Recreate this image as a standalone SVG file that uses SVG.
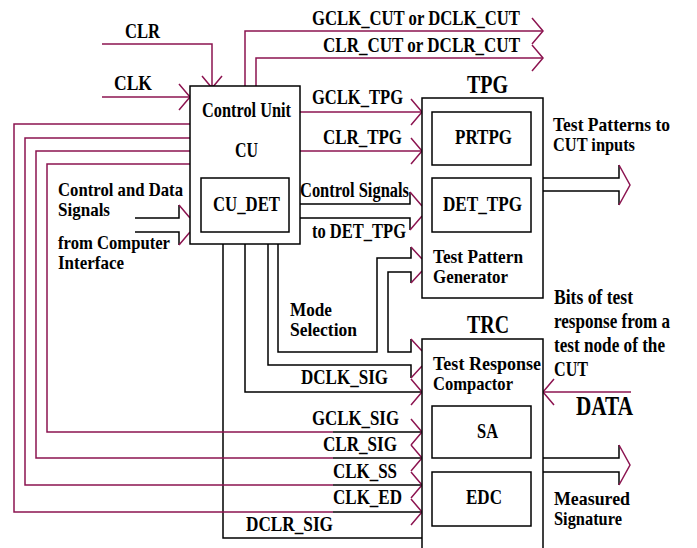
<svg xmlns="http://www.w3.org/2000/svg" width="697" height="548" viewBox="0 0 697 548">
<defs>
<style>
.m{fill:none;stroke:#8c1450;stroke-width:1.5}
.k{fill:none;stroke:#000;stroke-width:1.5}
.box{fill:#fff;stroke:#000;stroke-width:1.5}
text{font-family:"Liberation Serif","Times New Roman",serif;font-weight:bold;font-size:20px;fill:#000}
.big{font-size:25px}
.huge{font-size:27px}
.note{font-size:21px}
.pair{font-size:19px}
</style>
<marker id="chev" viewBox="-12 -14 13 28" refX="0" refY="0" markerWidth="13" markerHeight="28" markerUnits="userSpaceOnUse" orient="auto" overflow="visible">
<path d="M-11,-13 L0,0 L-11,13" fill="none" stroke="#8c1450" stroke-width="1.5"/>
</marker>
</defs>
<rect width="697" height="548" fill="#fff"/>

<g id="connectors">
<!-- inputs to CU -->
<path class="m" d="M102,44 H212 V87"/>
<path class="m" d="M202,76 L212,88 L222,76"/>
<path class="m" d="M102,97 H190" marker-end="url(#chev)"/>
<!-- CUT outputs -->
<path class="m" d="M245,86 V31 H543" marker-end="url(#chev)"/>
<path class="m" d="M256,86 V58 H543" marker-end="url(#chev)"/>
<!-- CU to TPG -->
<path class="m" d="M300,112 H422" marker-end="url(#chev)"/>
<path class="m" d="M300,151 H422" marker-end="url(#chev)"/>
<!-- Control signals hollow arrow -->
<path class="k" d="M300,204 H410 V192 M300,218 H410 V230"/>
<path class="m" d="M410,192 L422,206 M410,230 L422,216"/>
<!-- Control and data signals hollow arrow -->
<path class="k" d="M135,218 H179 V205 M135,232 H179 V245"/>
<path class="m" d="M179,205 L190,218 M179,245 L190,232"/>
<!-- Mode selection bus -->
<path class="k" d="M278,244 V352 H377 V258 H411 V247"/>
<path class="k" d="M411,283 V272 H388 V352 H411 V339"/>
<path class="k" d="M268,244 V365 H411 V378"/>
<path class="m" d="M411,247 L422,259 M411,283 L422,271"/>
<path class="m" d="M411,339 L422,351 M411,378 L422,366"/>
<!-- DCLK_SIG and DCLR_SIG -->
<path class="k" d="M245,244 V392 H422" marker-end="url(#chev)"/>
<path class="k" d="M223,244 V538 H422"/>
<!-- loops from CU left to TRC -->
<path class="m" d="M190,164 H47 V432 H333"/>
<path class="m" d="M190,151 H36 V458 H333"/>
<path class="m" d="M190,138 H25 V485 H333"/>
<path class="m" d="M190,124 H14 V512 H333"/>
<path class="k" d="M333,432 H422" marker-end="url(#chev)"/>
<path class="k" d="M333,458 H422" marker-end="url(#chev)"/>
<path class="k" d="M333,485 H422" marker-end="url(#chev)"/>
<path class="k" d="M333,512 H422" marker-end="url(#chev)"/>
<!-- outputs -->
<path class="k" d="M543,178 H619 V165 M543,191 H619 V205"/>
<path class="m" d="M619,165 L630,185 L619,205"/>
<path class="k" d="M543,458 H619 V445 M543,472 H619 V485"/>
<path class="m" d="M619,445 L630,465 L619,485"/>
<!-- DATA -->
<path class="m" d="M631,392 H543" marker-end="url(#chev)"/>

<!-- connector labels -->
<text x="125" y="38" textLength="35" lengthAdjust="spacingAndGlyphs">CLR</text>
<text x="114" y="90" textLength="38" lengthAdjust="spacingAndGlyphs">CLK</text>
<text x="312" y="25" textLength="208" lengthAdjust="spacingAndGlyphs">GCLK_CUT or DCLK_CUT</text>
<text x="323" y="52" textLength="197" lengthAdjust="spacingAndGlyphs">CLR_CUT or DCLR_CUT</text>
<text x="312" y="104" textLength="91" lengthAdjust="spacingAndGlyphs">GCLK_TPG</text>
<text x="323" y="144" textLength="79" lengthAdjust="spacingAndGlyphs">CLR_TPG</text>
<text x="300" y="197" textLength="109" lengthAdjust="spacingAndGlyphs">Control Signals</text>
<text x="312" y="238" textLength="94" lengthAdjust="spacingAndGlyphs">to DET_TPG</text>
<text class="pair" x="58" y="196" textLength="125" lengthAdjust="spacingAndGlyphs">Control and Data</text>
<text class="pair" x="58" y="216" textLength="52" lengthAdjust="spacingAndGlyphs">Signals</text>
<text class="pair" x="58" y="249" textLength="112" lengthAdjust="spacingAndGlyphs">from Computer</text>
<text class="pair" x="58" y="269" textLength="66" lengthAdjust="spacingAndGlyphs">Interface</text>
<text class="pair" x="290" y="316" textLength="42" lengthAdjust="spacingAndGlyphs">Mode</text>
<text class="pair" x="290" y="336" textLength="67" lengthAdjust="spacingAndGlyphs">Selection</text>
<text x="301" y="384" textLength="87" lengthAdjust="spacingAndGlyphs">DCLK_SIG</text>
<text x="312" y="425" textLength="87" lengthAdjust="spacingAndGlyphs">GCLK_SIG</text>
<text x="323" y="451" textLength="74" lengthAdjust="spacingAndGlyphs">CLR_SIG</text>
<text x="333" y="478" textLength="64" lengthAdjust="spacingAndGlyphs">CLK_SS</text>
<text x="333" y="504" textLength="69" lengthAdjust="spacingAndGlyphs">CLK_ED</text>
<text x="246" y="531" textLength="87" lengthAdjust="spacingAndGlyphs">DCLR_SIG</text>
<text class="pair" x="553" y="131" textLength="117" lengthAdjust="spacingAndGlyphs">Test Patterns to</text>
<text class="pair" x="553" y="151" textLength="82" lengthAdjust="spacingAndGlyphs">CUT inputs</text>
<text class="note" x="554" y="304" textLength="79" lengthAdjust="spacingAndGlyphs">Bits of test</text>
<text class="note" x="554" y="328" textLength="116" lengthAdjust="spacingAndGlyphs">response from a</text>
<text class="note" x="554" y="352" textLength="111" lengthAdjust="spacingAndGlyphs">test node of the</text>
<text class="note" x="554" y="376" textLength="34" lengthAdjust="spacingAndGlyphs">CUT</text>
<text class="huge" x="576" y="415" textLength="57" lengthAdjust="spacingAndGlyphs">DATA</text>
<text class="pair" x="554" y="505" textLength="76" lengthAdjust="spacingAndGlyphs">Measured</text>
<text class="pair" x="554" y="525" textLength="68" lengthAdjust="spacingAndGlyphs">Signature</text>
</g>

<g id="cu">
<rect class="box" x="190" y="86" width="110" height="158"/>
<text x="202" y="117" textLength="89" lengthAdjust="spacingAndGlyphs">Control Unit</text>
<text x="235" y="157" textLength="23" lengthAdjust="spacingAndGlyphs">CU</text>
<g id="cu_det">
<rect class="box" x="201" y="178" width="88" height="54"/>
<text x="213" y="211" textLength="67" lengthAdjust="spacingAndGlyphs">CU_DET</text>
</g>
</g>

<g id="tpg">
<text class="big" x="467" y="93" textLength="41" lengthAdjust="spacingAndGlyphs">TPG</text>
<rect class="box" x="422" y="98" width="121" height="200"/>
<g id="prtpg">
<rect class="box" x="432" y="112" width="99" height="53"/>
<text x="455" y="144" textLength="57" lengthAdjust="spacingAndGlyphs">PRTPG</text>
</g>
<g id="det_tpg">
<rect class="box" x="432" y="178" width="99" height="54"/>
<text x="443" y="211" textLength="79" lengthAdjust="spacingAndGlyphs">DET_TPG</text>
</g>
<text class="pair" x="433" y="263" textLength="90" lengthAdjust="spacingAndGlyphs">Test Pattern</text>
<text class="pair" x="433" y="283" textLength="75" lengthAdjust="spacingAndGlyphs">Generator</text>
</g>

<g id="trc">
<text class="big" x="467" y="333" textLength="42" lengthAdjust="spacingAndGlyphs">TRC</text>
<rect class="box" x="422" y="339" width="121" height="215"/>
<text class="pair" x="433" y="370" textLength="108" lengthAdjust="spacingAndGlyphs">Test Response</text>
<text class="pair" x="433" y="390" textLength="80" lengthAdjust="spacingAndGlyphs">Compactor</text>
<g id="sa">
<rect class="box" x="432" y="406" width="99" height="52"/>
<text x="477" y="438" textLength="21" lengthAdjust="spacingAndGlyphs">SA</text>
</g>
<g id="edc">
<rect class="box" x="432" y="472" width="99" height="54"/>
<text x="466" y="504" textLength="36" lengthAdjust="spacingAndGlyphs">EDC</text>
</g>
</g>
</svg>
